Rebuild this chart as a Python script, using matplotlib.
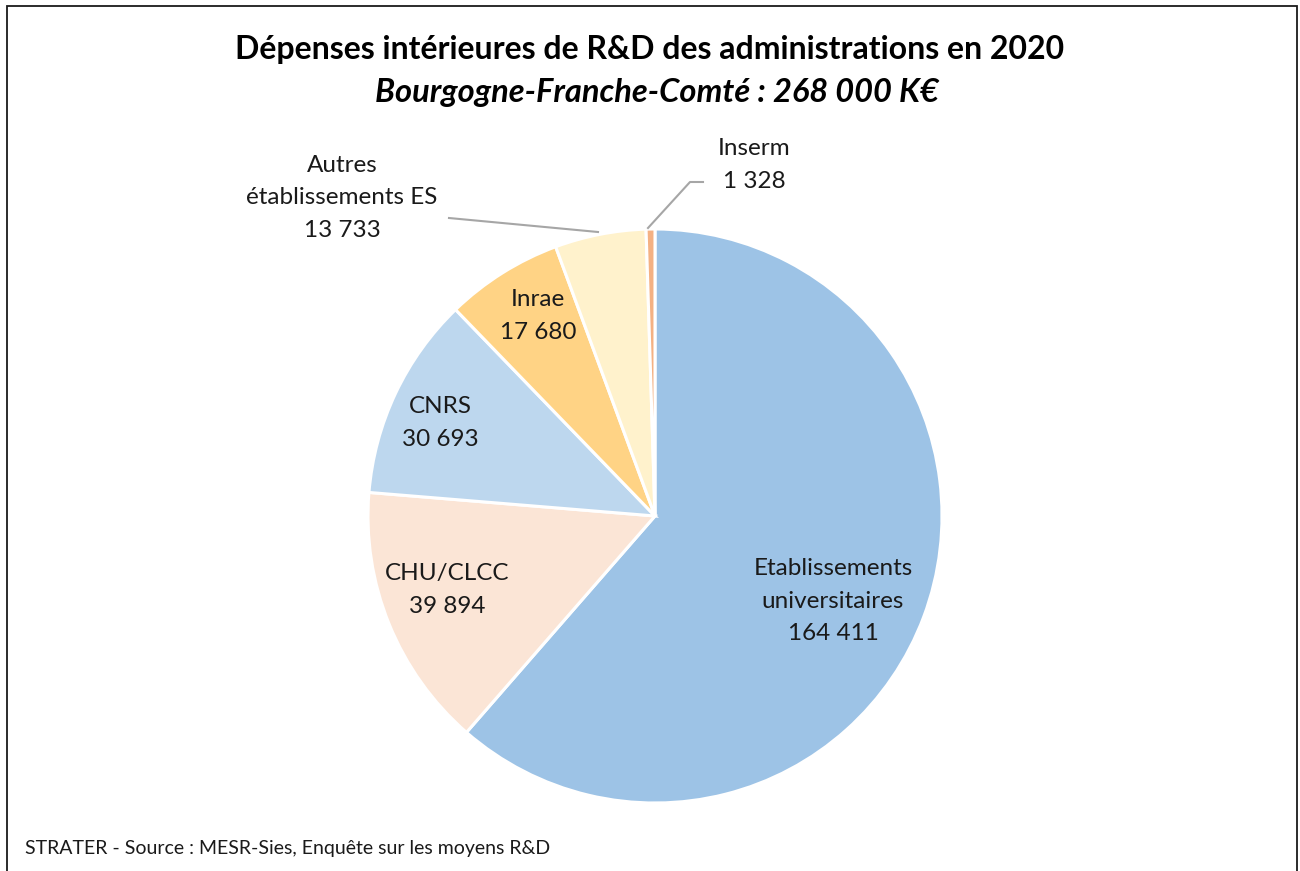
import matplotlib.pyplot as plt
from matplotlib.patches import Rectangle

# données (K€)
categories = ["Etablissements\nuniversitaires", "CHU/CLCC", "CNRS", "Inrae",
              "Autres\nétablissements ES", "Inserm"]
values = [164411, 39894, 30693, 17680, 13733, 1328]
value_labels = ["164 411", "39 894", "30 693", "17 680", "13 733", "1 328"]
colors = ["#9DC3E6", "#FBE5D6", "#BDD7EE", "#FFD385", "#FFF2CC", "#F4B183"]

title = "Dépenses intérieures de R&D des administrations en 2020"
subtitle = "Bourgogne-Franche-Comté : 268 000 K€"
footer = "STRATER - Source : MESR-Sies, Enquête sur les moyens R&D"

plt.rcParams["font.family"] = ["Lato", "DejaVu Sans"]

fig = plt.figure(figsize=(13, 8.71), dpi=100)
ax = fig.add_axes([0, 0, 1, 1])

cx, cy, r = 655, 871 - 516, 287
wedges, _ = ax.pie(values, colors=colors, startangle=90, counterclock=False,
                   center=(cx, cy), radius=r, frame=True,
                   wedgeprops=dict(edgecolor="white", linewidth=2.2))
ax.set_xlim(0, 1300)
ax.set_ylim(0, 871)
ax.set_aspect("equal")
ax.axis("off")

# positions des étiquettes (pixels depuis le haut)
label_pos = [(833, 601), (447, 590), (440, 423), (538, 316), (342, 198), (754, 165)]
for name, val, (x, y) in zip(categories, value_labels, label_pos):
    ax.text(x, 871 - y, name + "\n" + val, ha="center", va="center",
            fontsize=17.5, color="#1a1a1a", linespacing=1.68)

# traits de rappel
ax.plot([449, 598], [871 - 218, 871 - 232], color="#A6A6A6", lw=1.5)
ax.plot([648, 690, 703], [871 - 228, 871 - 182, 871 - 182], color="#A6A6A6", lw=1.5)

ax.text(650, 871 - 50, title, ha="center", va="center", fontsize=23,
        fontweight="bold", color="black")
ax.text(657, 871 - 93, subtitle, ha="center", va="center", fontsize=23.5,
        fontweight="bold", fontstyle="italic", color="black")
ax.text(25, 871 - 848, footer, ha="left", va="center", fontsize=14, color="#1a1a1a")

# cadre
fig.patches.append(Rectangle((6.5 / 1300, -0.01), (1296.5 - 6.5) / 1300, (871 - 5.5) / 871 + 0.01,
                             transform=fig.transFigure, fill=False,
                             edgecolor="#1a1a1a", linewidth=1.3))

fig.savefig("out.png", dpi=100)
